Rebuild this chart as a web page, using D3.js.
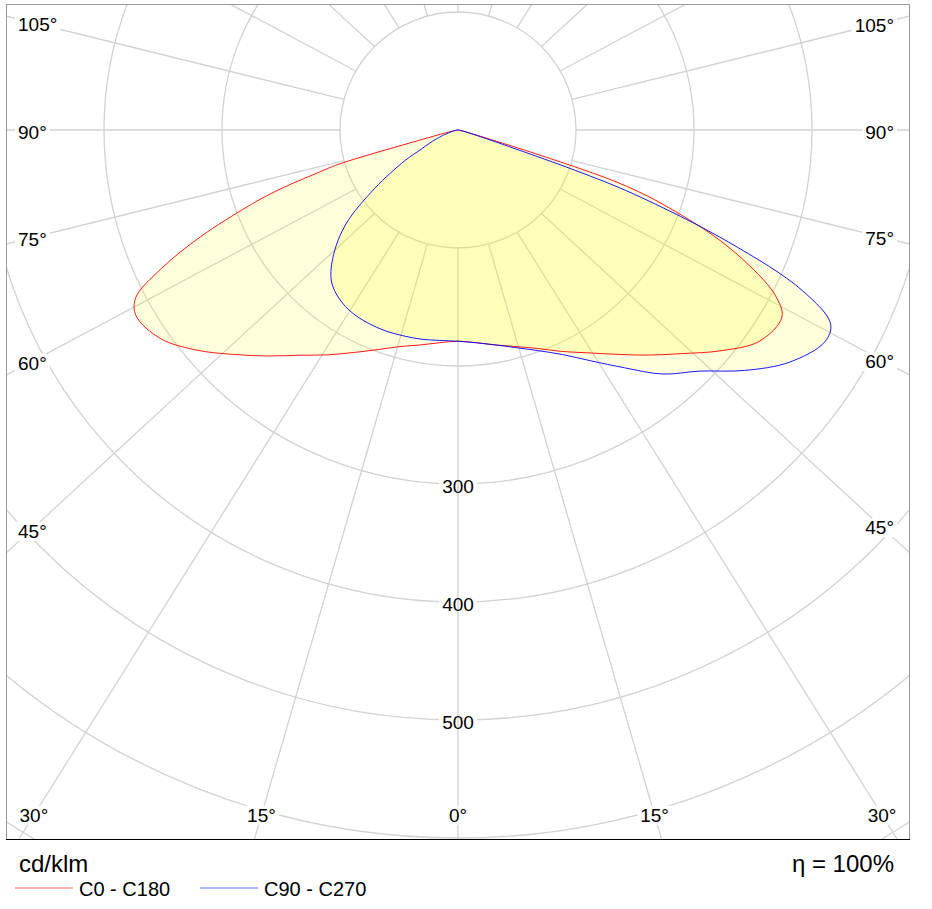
<!DOCTYPE html>
<html>
<head>
<meta charset="utf-8">
<title>Light distribution</title>
<script src="https://cdnjs.cloudflare.com/ajax/libs/d3/7.8.5/d3.min.js"></script>
<style>
  body { margin: 0; background: #fff; }
  text { font-family: "Liberation Sans", Arial, sans-serif; fill: #000; }
</style>
</head>
<body>
<script>
// gamma angles (deg from nadir) and intensities in cd/klm for each half plane
var gammas = [0, 5, 10, 15, 20, 25, 30, 35, 40, 45, 50, 55, 60, 62.5, 65, 67.5, 70, 71, 72, 73, 74, 75, 77.5, 80, 85, 90];
var c0   = [179, 181, 185, 190, 197, 207, 218, 232, 249, 268, 291, 312, 317, 303, 273, 235, 186, 165, 135, 70, 25, 12, 5, 2, 0.5, 0];
var c180 = [179, 181, 185, 190, 198, 208, 220, 233, 250, 269, 290, 308, 315, 308, 277, 236, 190, 172, 150, 125, 105, 40, 8, 3, 1, 0];
var c90  = [179, 181, 185, 191, 199, 210, 226, 246, 270, 289, 317, 343, 359, 356, 322, 248, 158, 105, 45, 25, 15, 10, 5, 2, 0.5, 0];
var c270 = [179, 179, 180, 180.5, 181, 180.5, 179, 175, 167, 149, 124, 86, 52, 35, 27, 20, 14, 12, 10, 8.5, 7, 6, 4, 2.5, 1, 0];

var rings = [100, 200, 300, 400, 500, 600, 700, 800];
var ringLabels = [300, 400, 500];
var sideAngles = [105, 90, 75, 60, 45];
var bottomAngles = [30, 15, 0];
var seriesNames = ["C0 - C180", "C90 - C270"];
var seriesColors = ["#ff0000", "#0000ff"];
var unitLabel = "cd/klm";
var effLabel = "\u03b7 = 100%";

var W = 932, H = 909;
var box = {x0: 6, y0: 4, x1: 910, y1: 840};
var cx = 458, cy = 130;
var r = d3.scaleLinear().domain([0, 100]).range([0, 118]);
var stretch = 1.085;
var rad = Math.PI / 180;

var svg = d3.select("body").append("svg")
        .attr("width", W)
        .attr("height", H);

svg.append("rect").attr("width", W).attr("height", H).attr("fill", "#fff");

svg.append("defs").append("clipPath").attr("id", "plot")
        .append("rect")
        .attr("x", box.x0).attr("y", box.y0)
        .attr("width", box.x1 - box.x0).attr("height", box.y1 - box.y0);

// rings
var grid = svg.append("g").attr("clip-path", "url(#plot)");
grid.selectAll("circle").data(rings).enter().append("circle")
        .attr("cx", cx).attr("cy", cy)
        .attr("r", function(d){ return r(d); })
        .attr("fill", "none")
        .attr("stroke", "#d2d2d2")
        .attr("stroke-width", 1.3);

var ringBg = svg.append("g");

// spokes, starting on the first ring
var spokes = svg.append("g").attr("clip-path", "url(#plot)");
spokes.selectAll("line").data(d3.range(0, 360, 15)).enter().append("line")
        .attr("x1", function(a){ return cx - r(100) * Math.sin(a * rad); })
        .attr("y1", function(a){ return cy + r(100) * Math.cos(a * rad); })
        .attr("x2", function(a){ return cx - r(100) * Math.sin(a * rad) - 2000 * stretch * Math.sin(a * rad); })
        .attr("y2", function(a){ return cy + r(100) * Math.cos(a * rad) + 2000 * Math.cos(a * rad); })
        .attr("stroke", "#d2d2d2")
        .attr("stroke-width", 1.3);

var labelBg = svg.append("g");

// curves
function curvePoints(left, right) {
    var pts = [];
    for (var i = gammas.length - 1; i >= 0; i--) {
        pts.push([cx - r(left[i]) * Math.sin(gammas[i] * rad), cy + r(left[i]) * Math.cos(gammas[i] * rad)]);
    }
    for (var j = 1; j < gammas.length; j++) {
        pts.push([cx + r(right[j]) * Math.sin(gammas[j] * rad), cy + r(right[j]) * Math.cos(gammas[j] * rad)]);
    }
    return pts;
}
var line = d3.line().curve(d3.curveCatmullRom.alpha(0.5));
var curves = [curvePoints(c180, c0), curvePoints(c270, c90)];

var ldc = svg.append("g").attr("clip-path", "url(#plot)");
ldc.selectAll("path.fill").data(curves).enter().append("path")
        .attr("class", "fill")
        .attr("d", function(d){ return line(d) + "Z"; })
        .attr("fill", "#ffff00")
        .attr("fill-opacity", 0.14)
        .attr("stroke", "none");
ldc.selectAll("path.edge").data(curves).enter().append("path")
        .attr("class", "edge")
        .attr("d", function(d){ return line(d) + "Z"; })
        .attr("fill", "none")
        .attr("stroke", function(d, i){ return seriesColors[i]; })
        .attr("stroke-width", 0.9);

// frame
svg.append("rect")
        .attr("x", box.x0 + 0.5).attr("y", box.y0 + 0.5)
        .attr("width", box.x1 - box.x0 - 1).attr("height", box.y1 - box.y0 - 1)
        .attr("fill", "none")
        .attr("stroke", "#9a9a9a");
svg.append("line")
        .attr("x1", box.x0).attr("x2", box.x1)
        .attr("y1", box.y1 - 0.5).attr("y2", box.y1 - 0.5)
        .attr("stroke", "#000");

var labels = svg.append("g").attr("font-size", 19);

function addLabel(bg, x, y, txt, anchor) {
    var t = labels.append("text")
            .attr("x", x).attr("y", y)
            .attr("dy", "0.35em")
            .attr("text-anchor", anchor)
            .text(txt);
    var b = t.node().getBBox();
    bg.append("rect")
            .attr("x", b.x - 3).attr("y", b.y + 1)
            .attr("width", b.width + 6).attr("height", b.height - 2)
            .attr("fill", "#fff");
}

ringLabels.forEach(function(v){
    addLabel(ringBg, cx, cy + r(v) + 2, v, "middle");
});

// side labels sit on their spoke near the frame
sideAngles.forEach(function(a){
    var s = Math.sin(a * rad), c = Math.cos(a * rad);
    [-1, 1].forEach(function(side){
        var p1x = cx + side * r(100) * s, p1y = cy + r(100) * c;
        var lx = side < 0 ? 32 : 880;
        var t = (lx - p1x) / (side * stretch * s);
        var y = p1y + t * c + 2;
        if (side < 0) addLabel(labelBg, 18, y, a + "\u00b0", "start");
        else addLabel(labelBg, 894, y, a + "\u00b0", "end");
    });
});

bottomAngles.forEach(function(a){
    var s = Math.sin(a * rad), c = Math.cos(a * rad);
    (a === 0 ? [1] : [-1, 1]).forEach(function(side){
        var p1x = cx + side * r(100) * s, p1y = cy + r(100) * c;
        var t = (815 - p1y) / c;
        addLabel(labelBg, p1x + side * stretch * s * t, 815, a + "\u00b0", "middle");
    });
});

// unit, efficiency and legend
svg.append("text").attr("x", 19).attr("y", 872).attr("font-size", 24).text(unitLabel);
svg.append("text").attr("x", 894).attr("y", 872).attr("font-size", 24)
        .attr("text-anchor", "end").text(effLabel);

var legend = svg.append("g").selectAll("g").data(seriesNames).enter().append("g")
        .attr("transform", function(d, i){ return "translate(" + (15 + i * 185) + ",0)"; });
legend.append("line")
        .attr("x1", 0).attr("x2", 58)
        .attr("y1", 888).attr("y2", 888)
        .attr("stroke", function(d, i){ return seriesColors[i]; })
        .attr("stroke-opacity", 0.4)
        .attr("stroke-width", 1.5);
legend.append("text")
        .attr("x", 64).attr("y", 896)
        .attr("font-size", 20)
        .text(function(d){ return d; });
</script>
</body>
</html>
